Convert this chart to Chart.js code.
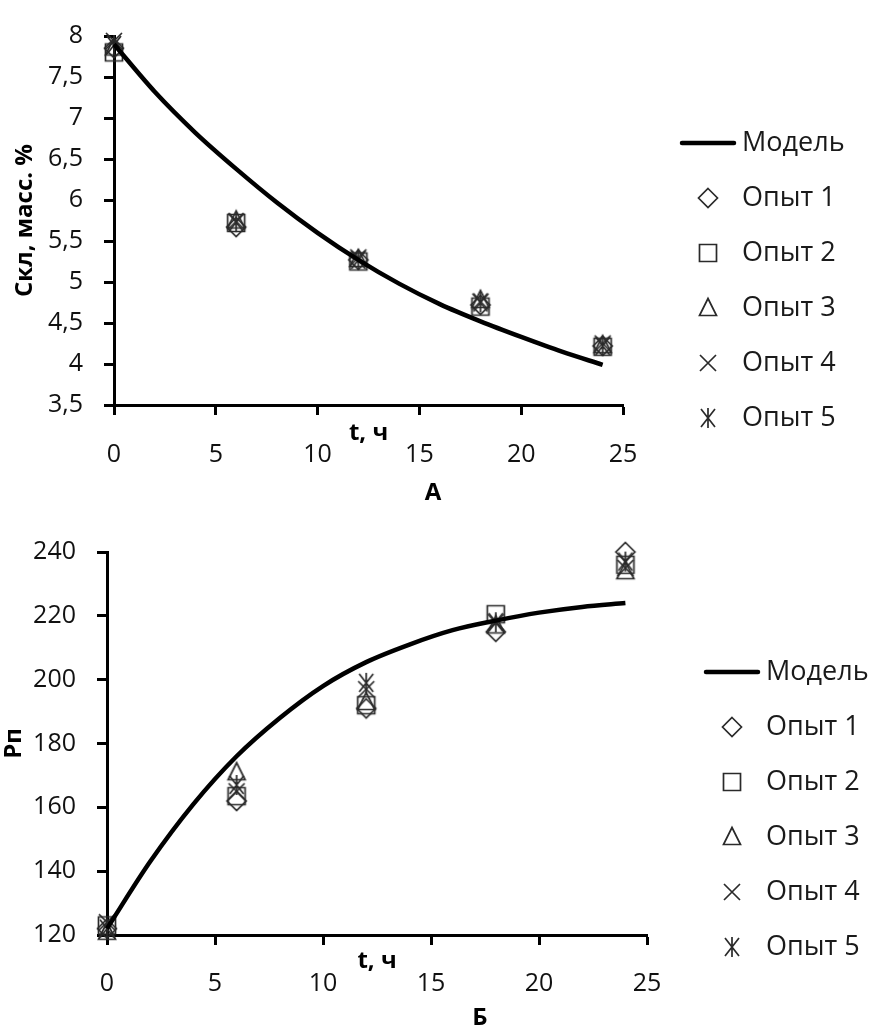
<!DOCTYPE html>
<html><head><meta charset="utf-8">
<script src="https://cdn.jsdelivr.net/npm/chart.js@4/dist/chart.umd.min.js"></script>
<style>
html,body{margin:0;padding:0;background:#fff;width:876px;height:1027px;overflow:hidden;position:relative}
#c1{position:absolute;left:0;top:0}
#c2{position:absolute;left:0;top:500px}
.cap{position:absolute;font:bold 24px 'Open Sans',sans-serif;color:#000;transform:translate(-50%,-50%);line-height:1}
</style></head>
<body>
<canvas id="c1" width="876" height="500"></canvas>
<canvas id="c2" width="876" height="527"></canvas>
<div class="cap" style="left:433px;top:491px">А</div>
<div class="cap" style="left:480px;top:1016px">Б</div>
<script>
// ---- data ----
const seriesNames = ['Опыт 1', 'Опыт 2', 'Опыт 3', 'Опыт 4', 'Опыт 5'];
const modelName = 'Модель';
const tExp = [0, 6, 12, 18, 24];
const tModel = [0, 2, 4, 6, 8, 10, 12, 14, 16, 18, 20, 22, 24];

// Chart A: Скл, масс. %
const cA_op1 = [7.85, 5.67, 5.27, 4.72, 4.22];
const cA_op2 = [7.80, 5.72, 5.25, 4.70, 4.21];
const cA_op3 = [7.86, 5.75, 5.28, 4.78, 4.23];
const cA_op4 = [7.94, 5.74, 5.30, 4.76, 4.25];
const cA_op5 = [7.89, 5.73, 5.27, 4.75, 4.22];
const cA_model = [7.90, 7.32, 6.82, 6.38, 5.97, 5.60, 5.27, 4.98, 4.73, 4.52, 4.33, 4.15, 3.99];

// Chart Б: Рп
const pB_op1 = [122, 162, 191, 215, 240];
const pB_op2 = [123, 163.5, 192, 220.5, 236];
const pB_op3 = [121, 171, 193, 217, 234];
const pB_op4 = [124, 165, 197, 218, 235];
const pB_op5 = [122, 167, 199, 218, 237];
const pB_model = [122, 143, 161, 176, 188, 198, 205.5, 211, 215.5, 218.5, 221, 222.8, 224];

const xTicksStep = 5;
const yTicksA = {min: 3.5, max: 8, step: 0.5};
const yTicksB = {min: 120, max: 240, step: 20};

// ---- marker images ----
function mk(type){
  const S = 26, c = document.createElement('canvas'); c.width = S; c.height = S;
  const g = c.getContext('2d'), m = S/2;
  g.lineWidth = 1.7; g.strokeStyle = '#2a2a2a';
  g.beginPath();
  switch(type){
    case 'diamond': g.moveTo(m, m-9.5); g.lineTo(m+9.5, m); g.lineTo(m, m+9.5); g.lineTo(m-9.5, m); g.closePath(); break;
    case 'square': g.rect(m-8.5, m-8.5, 17, 17); break;
    case 'triangle': g.moveTo(m, m-9.5); g.lineTo(m+8.5, m+7.5); g.lineTo(m-8.5, m+7.5); g.closePath(); break;
    case 'x': g.moveTo(m-8, m-8); g.lineTo(m+8, m+8); g.moveTo(m+8, m-8); g.lineTo(m-8, m+8); break;
    case 'star': g.moveTo(m-7, m-9); g.lineTo(m+7, m+9); g.moveTo(m+7, m-9); g.lineTo(m-7, m+9); g.moveTo(m, m-10); g.lineTo(m, m+10); break;
  }
  g.stroke();
  return c;
}
function mkLine(){
  const c = document.createElement('canvas'); c.width = 58; c.height = 8;
  const g = c.getContext('2d'); g.lineWidth = 4.5; g.lineCap = 'round'; g.strokeStyle = '#000';
  g.beginPath(); g.moveTo(3, 4); g.lineTo(55, 4); g.stroke();
  return c;
}
const markers = [mk('diamond'), mk('square'), mk('triangle'), mk('x'), mk('star')];
const lineImg = mkLine();

const FONT = "'Open Sans', sans-serif";

const legendPos = {
  id: 'legendPos',
  afterLayout(chart, args, opts){
    const lg = chart.legend; if (!lg) return;
    lg.left = opts.left; lg.top = opts.top; lg.right = chart.width; lg.bottom = chart.height;
  }
};

function pts(xs, ys){ return xs.map((x, i) => ({x, y: ys[i]})); }

function build(canvas, cfg){
  const datasets = [{
    label: modelName, data: pts(tModel, cfg.model), showLine: true,
    borderColor: '#000', borderWidth: 4.5, pointRadius: 0, pointHoverRadius: 0,
    pointStyle: lineImg, cubicInterpolationMode: 'monotone', clip: false
  }];
  cfg.exp.forEach((ys, i) => datasets.push({
    label: seriesNames[i], data: pts(tExp, ys), showLine: false,
    pointStyle: markers[i], pointRadius: 9, borderColor: '#2a2a2a', backgroundColor: 'transparent', clip: false
  }));
  return new Chart(canvas, {
    type: 'scatter',
    data: {datasets},
    options: {
      responsive: false, animation: false, events: [],
      layout: {padding: cfg.pad},
      plugins: {
        tooltip: {enabled: false},
        legend: {
          position: 'chartArea', align: 'start',
          labels: {usePointStyle: true, pointStyleWidth: 41, padding: 28, color: '#1a1a1a',
                   font: {family: FONT, size: 27}}
        },
        legendPos: cfg.legend
      },
      scales: {
        x: {
          type: 'linear', position: 'bottom', min: 0, max: 25,
          ticks: {stepSize: xTicksStep, color: '#111', font: {family: FONT, size: 25}, padding: cfg.xTickPad},
          grid: {drawOnChartArea: false, drawTicks: true, tickLength: 10, tickWidth: 3, tickColor: '#000'},
          border: {display: true, color: '#000', width: 3},
          title: {display: true, text: 't, ч', color: '#000', font: {family: FONT, size: 24, weight: 'bold'},
                  padding: {top: 0, bottom: cfg.xTitlePad}},
          afterFit(s){ s.height = cfg.xH; }
        },
        y: {
          type: 'linear', position: 'left', min: cfg.y.min, max: cfg.y.max,
          ticks: {stepSize: cfg.y.step, color: '#111', font: {family: FONT, size: 25}, padding: 21,
                  callback: v => String(v).replace('.', ',')},
          grid: {drawOnChartArea: false, drawTicks: true, tickLength: 10, tickWidth: 3, tickColor: '#000'},
          border: {display: true, color: '#000', width: 3},
          title: {display: true, text: cfg.yTitle, color: '#000', font: {family: FONT, size: 24, weight: 'bold'},
                  padding: {top: cfg.yTitlePad, bottom: 0}},
          afterFit(s){ s.width = cfg.yW; }
        }
      }
    },
    plugins: [legendPos]
  });
}

build(document.getElementById('c1'), {
  model: cA_model, exp: [cA_op1, cA_op2, cA_op3, cA_op4, cA_op5],
  pad: {left: 0, top: 26, right: 253, bottom: 0},
  y: yTicksA, yTitle: 'Скл, масс. %', yTitlePad: 11, yW: 114,
  xH: 95, xTickPad: 25, xTitlePad: 52,
  legend: {left: 659.5, top: 101.5}
});
build(document.getElementById('c2'), {
  model: pB_model, exp: [pB_op1, pB_op2, pB_op3, pB_op4, pB_op5],
  pad: {left: 0, top: 52, right: 229, bottom: 0},
  y: yTicksB, yTitle: 'Рп', yTitlePad: 0, yW: 107,
  xH: 92, xTickPad: 24, xTitlePad: 51,
  legend: {left: 683.5, top: 130.5}
});
</script>
</body></html>
